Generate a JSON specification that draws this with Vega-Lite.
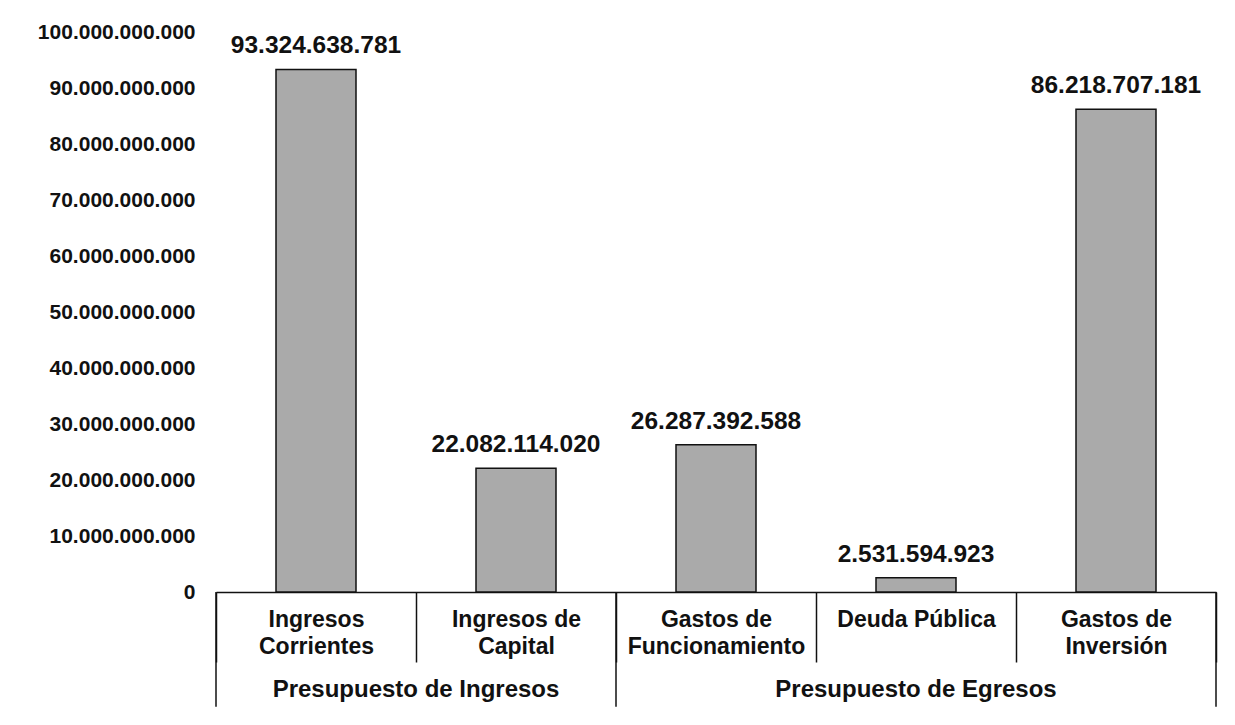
{
  "$schema": "https://vega.github.io/schema/vega-lite/v6.json",
  "width": 1000,
  "height": 560,
  "autosize": "none",
  "padding": {"left": 216, "top": 32, "right": 19, "bottom": 133},
  "background": "white",
  "config": {
    "view": {"stroke": null},
    "locale": {"number": {"decimal": ",", "thousands": ".", "grouping": [3], "currency": ["$", ""]}},
    "axisX": {
      "domain": true, "domainColor": "#111111", "domainWidth": 1.5,
      "ticks": true, "tickBand": "extent", "tickSize": 70, "tickColor": "#111111", "tickWidth": 1.5,
      "grid": false, "labelAngle": 0,
      "labelFont": "Liberation Sans", "labelFontSize": 23, "labelFontWeight": "bold", "labelColor": "#111111",
      "labelBaseline": "top", "labelPadding": -54, "labelLineHeight": 27, "labelLimit": 220, "labelOverlap": false
    }
  },
  "data": {
    "values": [
      {"category": "Ingresos Corrientes", "group": "Presupuesto de Ingresos", "value": 93324638781},
      {"category": "Ingresos de Capital", "group": "Presupuesto de Ingresos", "value": 22082114020},
      {"category": "Gastos de Funcionamiento", "group": "Presupuesto de Egresos", "value": 26287392588},
      {"category": "Deuda Pública", "group": "Presupuesto de Egresos", "value": 2531594923},
      {"category": "Gastos de Inversión", "group": "Presupuesto de Egresos", "value": 86218707181}
    ]
  },
  "layer": [
    {
      "mark": {"type": "bar", "color": "#aaaaaa", "stroke": "#111111", "strokeWidth": 1.5, "width": 80},
      "encoding": {
        "x": {"field": "category", "type": "nominal", "sort": null, "title": null,
              "scale": {"paddingInner": 0, "paddingOuter": 0},
              "axis": {"labelExpr": "datum.label == 'Ingresos Corrientes' ? ['Ingresos', 'Corrientes'] : datum.label == 'Ingresos de Capital' ? ['Ingresos de', 'Capital'] : datum.label == 'Gastos de Funcionamiento' ? ['Gastos de', 'Funcionamiento'] : datum.label == 'Gastos de Inversión' ? ['Gastos de', 'Inversión'] : datum.label"}},
        "y": {"field": "value", "type": "quantitative", "title": null,
              "scale": {"domain": [0, 100000000000], "nice": false},
              "axis": {"values": [0, 10000000000, 20000000000, 30000000000, 40000000000, 50000000000, 60000000000, 70000000000, 80000000000, 90000000000, 100000000000],
                       "format": ",.0f", "domain": false, "ticks": false, "tickSize": 0, "grid": false,
                       "labelFont": "Liberation Sans", "labelFontSize": 21, "labelFontWeight": "bold", "labelColor": "#111111",
                       "labelPadding": 21, "title": null}}
      }
    },
    {
      "mark": {"type": "text", "font": "Liberation Sans", "fontSize": 24.5, "fontWeight": "bold", "color": "#111111", "baseline": "alphabetic", "dy": -16},
      "encoding": {
        "x": {"field": "category", "type": "nominal", "sort": null, "title": null},
        "y": {"field": "value", "type": "quantitative", "title": null},
        "text": {"field": "value", "type": "quantitative", "format": ",.0f"}
      }
    },
    {
      "transform": [{"filter": "datum.category == 'Ingresos Corrientes' || datum.category == 'Gastos de Funcionamiento'"}],
      "mark": {"type": "rule", "color": "#111111", "strokeWidth": 1.5},
      "encoding": {
        "x": {"field": "category", "type": "nominal", "sort": null, "title": null, "bandPosition": 0},
        "y": {"datum": 0},
        "y2": {"datum": -20500000000}
      }
    },
    {
      "transform": [{"filter": "datum.category == 'Gastos de Inversión'"}],
      "mark": {"type": "rule", "color": "#111111", "strokeWidth": 1.5},
      "encoding": {
        "x": {"field": "category", "type": "nominal", "sort": null, "title": null, "bandPosition": 1},
        "y": {"datum": 0},
        "y2": {"datum": -20500000000}
      }
    },
    {
      "transform": [{"filter": "datum.category == 'Ingresos de Capital'"}],
      "mark": {"type": "text", "font": "Liberation Sans", "fontSize": 24, "fontWeight": "bold", "color": "#111111", "baseline": "middle", "align": "center"},
      "encoding": {
        "x": {"field": "category", "type": "nominal", "sort": null, "title": null, "bandPosition": 0},
        "y": {"datum": -17500000000},
        "text": {"field": "group", "type": "nominal"}
      }
    },
    {
      "transform": [{"filter": "datum.category == 'Deuda Pública'"}],
      "mark": {"type": "text", "font": "Liberation Sans", "fontSize": 24, "fontWeight": "bold", "color": "#111111", "baseline": "middle", "align": "center"},
      "encoding": {
        "x": {"field": "category", "type": "nominal", "sort": null, "title": null, "bandPosition": 0.5},
        "y": {"datum": -17500000000},
        "text": {"field": "group", "type": "nominal"}
      }
    }
  ]
}
